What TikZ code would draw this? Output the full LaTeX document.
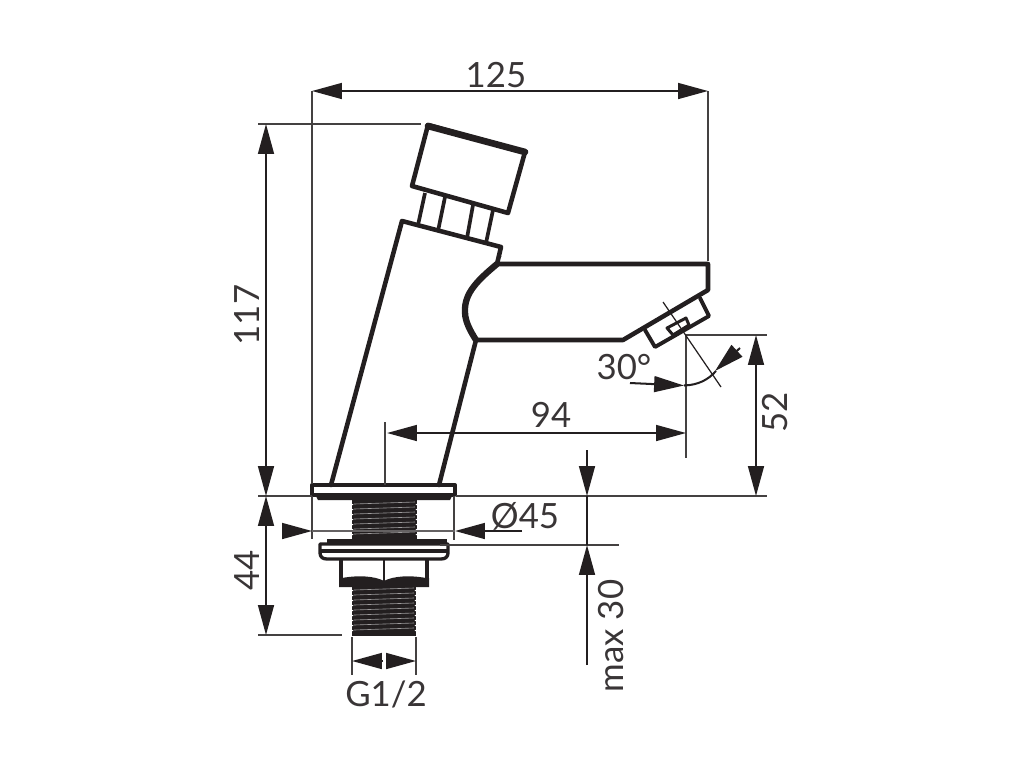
\documentclass[tikz,border=0pt]{standalone}
\usepackage{fontspec}
\setmainfont{Lato}
\usepackage{xcolor}
\definecolor{inkdark}{HTML}{231F20}
\usetikzlibrary{arrows.meta, positioning, calc}
\tikzset{
  outline/.style={line width=2.6pt, color=inkdark, line join=round, line cap=round},
  extline/.style={line width=0.7pt, color=inkdark!85},
  dimline/.style={line width=1.15pt, color=inkdark, {Triangle[length=17pt,width=9pt]}-{Triangle[length=17pt,width=9pt]}},
  dimtip/.style={line width=1.15pt, color=inkdark, -{Triangle[length=17pt,width=9pt]}},
  dimlabel/.style={font=\fontsize{19.8}{21}\selectfont, text=inkdark!90, inner sep=0pt},
  thread/.style={line width=0.35pt, color=white!55!inkdark}
}
\begin{document}
\begin{tikzpicture}[x=0.02cm, y=-0.02cm]
  \useasboundingbox (0,0) rectangle (1024,768);

  % Push button
  \draw[outline] (428,125) -- (525,152) -- (508,213) -- (412,186) -- cycle;
  \draw[line width=3.8pt, color=inkdark, line cap=round] (428,126) -- (525,152);
  \foreach \xa/\ya/\xb/\yb in {425/193/418/225, 445/197/438/231, 473/205/467/238, 493/210/486/243}
    \draw[line width=2.1pt, color=inkdark] (\xa,\ya) -- (\xb,\yb);

  % Body
  \draw[outline] (331,485) -- (402,221) -- (501,247) -- (497,264);
  \draw[outline] (476,340) -- (439,485);

  % Spout
  \draw[outline] (497,264) -- (708,264) -- (708,290) -- (623,340) -- (476,340);
  \draw[line width=3.6pt, color=inkdark, line join=round] (497,264) .. controls (478,280) and (464,293) .. (465,312)
    .. controls (465,322) and (471,332) .. (476,340);
  \draw[line width=0.7pt, color=inkdark] (501,256) .. controls (488,272) and (480,276) .. (475,282);

  % Aerator
  \draw[outline, line width=2.2pt] (645,330) -- (655,347) -- (709,316) -- (700,298);
  \draw[outline, line width=1.7pt] (667,328) -- (673,335) -- (689,325) -- (686,318) -- cycle;

  % Lower flange and threads above the basin
  \draw[outline, line width=1.9pt] (312,485) rectangle (455,495);
  \fill[inkdark] (315,494) -- (453,494) -- (450,500) -- (318,500) -- cycle;
  \fill[inkdark] (352,500) rectangle (417,541);
  \foreach \yy in {503,508,513,518,523,528,533} {
    \draw[thread] (354,\yy+1) -- (415,\yy-1);
    \fill[white] (350.5,\yy) -- (353.5,\yy+1.5) -- (350.5,\yy+3) -- cycle;
    \fill[white] (418.5,\yy) -- (415.5,\yy+1.5) -- (418.5,\yy+3) -- cycle;
  }

  % Clamping washer
  \fill[inkdark] (327,539) rectangle (447,544);
  \draw[outline, line width=1.9pt] (320,544) -- (448,544) -- (448,553)
    .. controls (448,557) and (445,559) .. (441,559) -- (327,559)
    .. controls (323,559) and (320,557) .. (320,553) -- cycle;
  \draw[line width=1.9pt, color=inkdark] (320,551) -- (448,551);

  % Nut
  \draw[outline, line width=2.2pt] (341,560) -- (341,580);
  \draw[outline, line width=2.2pt] (427,560) -- (427,580);
  \draw[line width=1.6pt, color=inkdark] (384,560) -- (384,583);
  \fill[inkdark] (339,578) -- (342,578) .. controls (358,575) and (375,576) .. (384,581)
    .. controls (393,576) and (410,575) .. (426,578) -- (429,578) -- (429,587) -- (339,587) -- cycle;

  % Threads below the nut
  \fill[inkdark] (352,586) rectangle (416,636);
  \foreach \yy in {589,594,599,604,609,614,619,624,629} {
    \draw[thread] (354,\yy+1) -- (414,\yy-1);
    \fill[white] (350.5,\yy) -- (353.5,\yy+1.5) -- (350.5,\yy+3) -- cycle;
    \fill[white] (417.5,\yy) -- (414.5,\yy+1.5) -- (417.5,\yy+3) -- cycle;
  }

  % Extension lines
  \draw[extline] (312,91) -- (312,484);
  \draw[extline] (708,91) -- (708,261);
  \draw[extline] (258,124) -- (421,124);
  \draw[extline] (258,496) -- (312,496);
  \draw[extline] (456,496) -- (767,496);
  \draw[extline] (258,635) -- (342,635);
  \draw[extline] (686,335) -- (767,335);
  \draw[extline] (686,335) -- (686,458);
  \draw[extline] (385,422) -- (385,485);
  \draw[extline] (312,496) -- (312,539);
  \draw[extline] (454,496) -- (454,540);
  \draw[extline] (440,545) -- (619,545);
  \draw[extline] (352,637) -- (352,675);
  \draw[extline] (416,637) -- (416,675);
  \draw[extline, color=inkdark] (663,302) -- (721,387);

  % Dimensions
  \coordinate (wl) at (312,91);   \coordinate (wr) at (708,91);
  \coordinate (ht) at (266,124);  \coordinate (hb) at (266,496);
  \coordinate (lo) at (266,635);
  \coordinate (sl) at (387,433);  \coordinate (sr) at (686,433);
  \coordinate (at) at (756,335);  \coordinate (ab) at (756,496);
  \draw[dimline] (wl) -- (wr);
  \draw[dimline] (ht) -- (hb);
  \draw[dimline] (hb) -- (lo);
  \draw[dimline] (sl) -- (sr);
  \draw[dimline] (at) -- (ab);

  % Flange diameter
  \coordinate (fl) at (312,531);  \coordinate (fr) at (455,531);
  \draw[dimtip] (283,531) -- (fl);
  \draw[dimtip] (522,531) -- (fr);
  \draw[line width=0.8pt, color=white!30!inkdark] (fl) -- (fr);

  % Max thickness
  \coordinate (mt) at (587,496);  \coordinate (mb) at (587,545);
  \draw[dimtip] (587,450) -- (mt);
  \draw[dimtip] (587,665) -- (mb);
  \draw[line width=0.9pt, color=inkdark] (mt) -- (mb);

  % Connection size
  \coordinate (gl) at (352,661);  \coordinate (gr) at (416,661);
  \draw[dimtip] (383,661) -- (gl);
  \draw[dimtip] (386,661) -- (gr);

  % Angle
  \draw[line width=1.15pt, color=inkdark, -{Triangle[length=17pt,width=9pt]}] (630,383) -- (684,385.5);
  \draw[line width=1.15pt, color=inkdark] (684,385.5) .. controls (698,385) and (708,380) .. (716,371);
  \draw[line width=1.15pt, color=inkdark, -{Triangle[length=17pt,width=9pt]}] (740,348) -- (715,371);

  % Labels
  \node[dimlabel] (lblwidth) at (496,75) {125};
  \node[dimlabel, rotate=90] (lblheight) at (247,315) {117};
  \node[dimlabel, rotate=90] (lbllower) at (247,570) {44};
  \node[dimlabel] (lblspout) at (551,415) {94};
  \node[dimlabel] (lblangle) at (624,367) {30°};
  \node[dimlabel, rotate=90] (lblaerator) at (775,412) {52};
  \node[dimlabel] (lbldia) at (525,516) {Ø45};
  \node[dimlabel, rotate=90] (lblmax) at (611,636) {max 30};
  \node[dimlabel] (lblthread) at (386,694) {G1/2};
\end{tikzpicture}
\end{document}
